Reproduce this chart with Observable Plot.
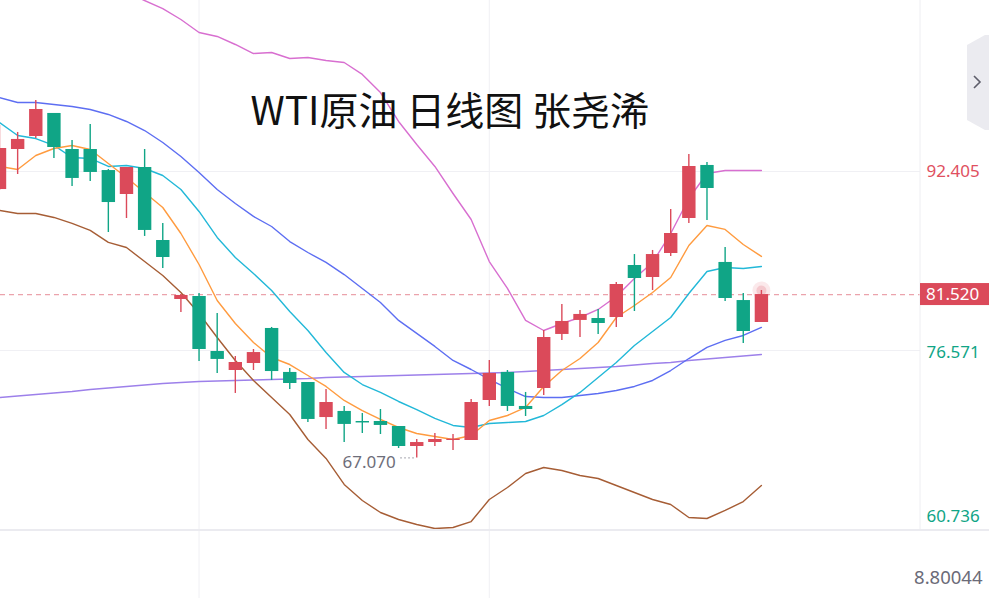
<!DOCTYPE html>
<html><head><meta charset="utf-8">
<script src="https://cdn.jsdelivr.net/npm/d3@7"></script>
<script src="https://cdn.jsdelivr.net/npm/@observablehq/plot@0.6"></script>
<style>
html,body{margin:0;padding:0;background:#fff;}
#chart{position:relative;width:989px;height:598px;overflow:hidden;}
svg{font-family:"Noto Sans",sans-serif;}
</style></head><body><div id="chart"></div>
<script>
// ---- data (daily candles, WTI) ----
const title = "WTI原油 日线图 张尧浠";
const opens  = [90.81,94.35,95.50,97.54,94.35,94.35,92.49,90.37,92.76,86.30,81.08,81.35,76.48,74.80,75.42,78.52,74.63,73.74,70.64,71.18,70.29,70.29,69.85,68.08,68.43,68.61,68.61,72.15,74.63,71.62,73.21,77.99,79.23,79.40,79.49,84.09,83.03,85.15,88.25,92.94,84.36,80.99,79.05];
const highs  = [96.47,95.86,98.69,97.54,95.15,96.56,92.58,92.76,94.35,87.81,81.52,81.61,79.84,76.04,76.66,78.61,74.98,73.74,73.12,71.62,71.00,71.35,69.85,68.70,69.23,69.14,72.24,75.69,74.80,72.86,78.34,80.64,80.11,80.20,82.59,85.06,85.42,89.04,93.91,93.20,85.68,81.61,81.88];
const lows   = [90.72,92.14,95.32,93.56,91.08,91.52,87.01,88.25,86.66,83.82,79.93,75.60,74.54,72.77,74.80,73.92,73.12,70.20,69.58,68.43,69.23,69.14,67.90,67.07,68.08,67.73,68.61,71.62,71.18,70.73,72.59,77.46,77.72,77.99,78.61,80.02,81.88,84.89,87.81,88.07,80.91,77.19,79.05];
const closes = [94.44,95.24,97.89,94.53,91.79,92.32,89.66,92.76,87.19,84.80,81.44,76.66,75.78,75.51,76.39,74.71,73.65,70.47,71.97,70.03,70.16,69.94,68.08,68.43,68.70,68.70,71.97,74.54,71.62,71.35,77.72,79.14,79.76,78.96,82.41,82.94,85.06,86.92,92.85,90.90,81.17,78.25,81.52];
// indicator lines (null = not shown)
const pinkLine   = [null,null,null,null,null,null,null,108.24,107.53,106.82,105.85,104.70,104.35,103.64,102.84,102.93,102.40,102.49,102.22,102.05,100.99,99.39,96.83,94.79,92.85,90.46,88.16,84.44,82.06,79.23,78.34,78.96,79.49,80.20,81.35,82.94,84.36,86.92,90.02,92.23,92.49,92.49,92.49];
const blueLine   = [98.95,98.51,98.51,98.33,98.16,97.89,97.45,96.83,96.03,94.97,93.73,92.32,90.81,89.57,88.43,87.54,86.21,85.24,84.36,83.29,82.06,80.82,79.23,78.08,76.93,75.69,74.89,74.01,73.21,72.50,72.41,72.41,72.59,72.77,73.03,73.39,73.92,74.80,75.86,76.84,77.46,77.90,78.61];
const cyanLine   = [96.74,95.59,95.32,94.71,93.64,93.56,92.85,92.94,92.67,92.05,90.81,88.87,86.57,84.80,83.38,81.88,80.02,78.34,76.39,74.63,73.56,72.86,72.06,71.35,70.56,69.94,69.76,70.11,70.20,70.29,70.82,71.79,72.86,74.18,75.51,77.01,78.25,79.49,81.61,83.56,83.91,83.82,84.00];
const orangeLine = [92.85,92.58,93.82,94.44,94.71,94.35,93.11,91.88,90.55,89.22,86.92,84.18,80.99,78.96,77.28,75.95,75.33,74.36,73.39,72.15,71.26,70.47,69.76,69.23,68.96,68.70,69.05,70.38,70.82,71.53,73.39,74.80,75.86,77.28,79.49,80.55,81.70,83.03,85.86,87.63,87.28,85.95,84.89];
const brownLine  = [88.96,88.69,88.69,88.34,87.81,87.19,86.13,85.68,84.44,83.21,81.70,79.84,77.72,75.69,73.92,72.41,70.91,68.70,67.02,64.72,63.30,62.24,61.62,61.18,60.83,60.91,61.44,63.39,64.45,65.69,66.22,65.96,65.51,65.25,64.63,64.01,63.39,62.95,61.80,61.71,62.42,63.21,64.63];
const purpleLine = [72.41,72.55,72.68,72.81,72.94,73.12,73.25,73.39,73.52,73.65,73.74,73.83,73.87,73.92,73.96,74.01,74.05,74.09,74.18,74.23,74.27,74.32,74.36,74.40,74.45,74.49,74.54,74.58,74.63,74.71,74.80,74.89,74.98,75.07,75.16,75.29,75.42,75.51,75.69,75.82,75.95,76.08,76.22];
// axis / labels
const redTicks = [108.239, 92.405];
const greenTicks = [76.571];
const bottomTick = [60.736];
const currentPrice = 81.520;
const lowValue = 67.070;
const lowIndex = 23;
const gridIndex = [11, 27];
const subPanelValue = "8.80044";

// ---- build ----
const RED = "#db4a5a", GREEN = "#10a586";
const n = opens.length;
const candles = d3.range(n).map(i => ({i, o: opens[i], h: highs[i], l: lows[i], c: closes[i]}));
const series = arr => arr.map((v, i) => ({i, v})).filter(d => d.v != null);
const col = d => d.c >= d.o ? RED : GREEN;
const lineOpts = (stroke) => ({x: "i", y: "v", stroke, strokeWidth: 1.4, clip: true});

const chart = Plot.plot({
  width: 989, height: 598,
  marginLeft: 0, marginRight: 69, marginTop: 0, marginBottom: 68,
  x: {type: "linear", domain: [0.055, 50.77], axis: null},
  y: {domain: [60.648, 107.532], axis: null},
  style: {background: "#fff", fontFamily: "Noto Sans, sans-serif"},
  marks: [
    Plot.ruleY([redTicks[1], greenTicks[0]], {stroke: "#f0f0f4", strokeWidth: 1}),
    Plot.ruleX(gridIndex, {stroke: "#f0f0f4", strokeWidth: 1, insetBottom: -68}),
    Plot.ruleY([currentPrice], {stroke: "#eba3ac", strokeWidth: 1.2, strokeDasharray: "5,4"}),
    Plot.line(series(purpleLine), lineOpts("#9d80ea")),
    Plot.line(series(brownLine), lineOpts("#a65d35")),
    Plot.line(series(blueLine), lineOpts("#5d6ef2")),
    Plot.line(series(cyanLine), lineOpts("#22b8d8")),
    Plot.line(series(orangeLine), lineOpts("#ff9b3f")),
    Plot.line(series(pinkLine), lineOpts("#d86fd0")),
    Plot.dot([candles[n-1]], {x: "i", y: "h", r: 9, fill: RED, fillOpacity: 0.12, stroke: "none"}),
    Plot.dot([candles[n-1]], {x: "i", y: "h", r: 5, fill: RED, fillOpacity: 0.2, stroke: "none"}),
    Plot.ruleX(candles, {x: "i", y1: "l", y2: "h", stroke: col, strokeWidth: 1.4, clip: true}),
    Plot.ruleX(candles, {x: "i", y1: d => Math.min(d.o, d.c),
      y2: d => Math.max(Math.max(d.o, d.c), Math.min(d.o, d.c) + 0.12),
      stroke: col, strokeWidth: 13.4, clip: true}),
    Plot.text([lowValue], {x: lowIndex, y: d => d, text: d => d.toFixed(3), dx: -21, dy: 5,
      textAnchor: "end", fill: "#6e6e7a", fontSize: 17}),
    Plot.ruleY([lowValue], {x1: lowIndex - 0.88, x2: lowIndex - 0.1, stroke: "#8a8a95", strokeDasharray: "1.5,2.5"}),
    Plot.text([title], {frameAnchor: "top-left", dx: 250, dy: 112, text: d => d, textAnchor: "start",
      lineAnchor: "middle", fontSize: 39, fill: "#111", fontFamily: "Noto Sans CJK SC"}),
    Plot.text(redTicks, {y: d => d, text: d => d.toFixed(3), frameAnchor: "right", dx: 6,
      textAnchor: "start", fill: "#e0505f", fontSize: 17}),
    Plot.text(greenTicks, {y: d => d, text: d => d.toFixed(3), frameAnchor: "right", dx: 6, dy: 2,
      textAnchor: "start", fill: GREEN, fontSize: 17}),
    Plot.text(bottomTick, {y: d => d, text: d => d.toFixed(3), frameAnchor: "right", dx: 6, dy: -13,
      textAnchor: "start", fill: GREEN, fontSize: 17}),
    Plot.text([subPanelValue], {frameAnchor: "bottom-right", dx: 62, dy: 48, text: d => d,
      textAnchor: "end", lineAnchor: "middle", fill: "#6b6b78", fontSize: 18.5})
  ]
});
document.getElementById("chart").appendChild(chart);

// ---- panel decorations via the plot's scales ----
const svg = d3.select(chart);
const ys = chart.scale("y");
const y0 = ys.apply(ys.domain[0]);
svg.append("line").attr("x1", 920).attr("x2", 920).attr("y1", 0).attr("y2", y0)
  .attr("stroke", "#eeeef2").attr("stroke-width", 1);
svg.append("line").attr("x1", 0).attr("x2", 989).attr("y1", y0).attr("y2", y0)
  .attr("stroke", "#ebebf0").attr("stroke-width", 2);
const py = ys.apply(currentPrice);
svg.append("rect").attr("x", 920).attr("y", py - 11).attr("width", 69).attr("height", 22).attr("fill", RED);
svg.append("text").attr("x", 926).attr("y", py).attr("dy", "0.35em").attr("fill", "#fff")
  .attr("text-anchor", "start")
  .attr("font-size", 17).attr("font-family", "Noto Sans, sans-serif").text(currentPrice.toFixed(3));
svg.append("polygon").attr("points", "967,45 985,35 989,35 989,130 985,130 967,120").attr("fill", "#ebebf0");
svg.append("path").attr("d", "M974,76 L980,82 L974,88").attr("fill", "none").attr("stroke", "#5d5d6a").attr("stroke-width", 1.6);
</script></body></html>
